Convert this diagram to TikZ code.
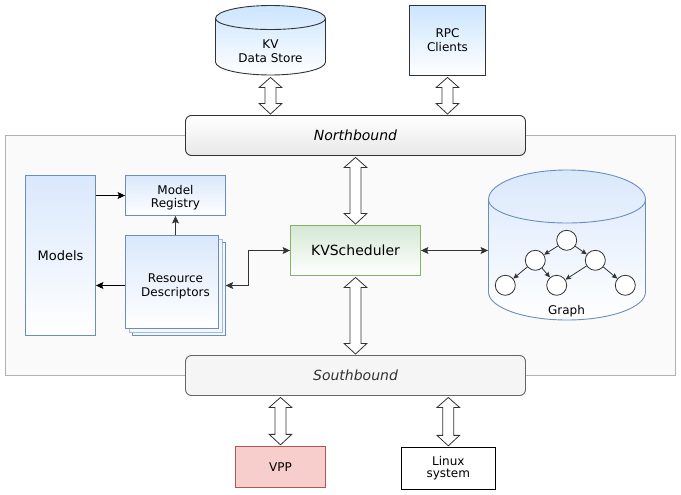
\documentclass[tikz,border=0pt]{standalone}
\usepackage{fontspec}
\setmainfont{DejaVu Sans}
\usetikzlibrary{arrows.meta,calc}
\definecolor{dk}{HTML}{333333}
\definecolor{bluest}{HTML}{6C8EBF}
\definecolor{bluefl}{HTML}{DAE8FC}
\definecolor{skyfl}{HTML}{CCE5FF}
\definecolor{grnst}{HTML}{82B366}
\definecolor{grnfl}{HTML}{D5E8D4}
\definecolor{redst}{HTML}{B85450}
\definecolor{redfl}{HTML}{F8CECC}
\tikzset{
  x=1pt,y=-1pt,
  lbl/.style={font=\fontsize{12}{14}\selectfont,align=center,text=black},
  box/.style={lbl,rectangle,inner sep=0pt,line width=0.9pt},
  bluebox/.style={box,draw=bluest,top color=bluefl,bottom color=white},
  skybox/.style={box,draw=dk,top color=skyfl,bottom color=white},
  hollow/.style={box},
  bi/.style={draw=dk,fill=white,line width=0.8pt,line join=miter},
  conn/.style={draw=black,line width=0.9pt,-{Stealth[inset=1.5pt,length=7.5pt,width=7pt]}},
  conng/.style={draw=dk,line width=0.9pt,-{Stealth[inset=1.5pt,length=7.5pt,width=7pt]}},
  both/.style={draw=dk,line width=0.9pt,{Stealth[inset=1.5pt,length=7.5pt,width=7pt]}-{Stealth[inset=1.5pt,length=7.5pt,width=7pt]}},
  tn/.style={circle,draw=black!80,fill=white,line width=0.8pt,minimum size=20pt,inner sep=0pt},
  te/.style={draw=dk,line width=0.8pt,-{Stealth[inset=1pt,length=5.5pt,width=5pt]}},
}
% vertical double block arrow from #1 (top) to #2 (bottom)
\newcommand\biarrow[2]{%
  \path[bi] let \p1=(#1),\p2=(#2) in
   (\x1,\y1-1.5pt) -- (\x1+11.3pt,\y1-11.5pt) -- (\x1+5.5pt,\y1-11.5pt)
   -- (\x1+5.5pt,\y2+11.5pt) -- (\x1+11.3pt,\y2+11.5pt) -- (\x2,\y2+1pt)
   -- (\x1-11.3pt,\y2+11.5pt) -- (\x1-5.5pt,\y2+11.5pt)
   -- (\x1-5.5pt,\y1-11.5pt) -- (\x1-11.3pt,\y1-11.5pt) -- cycle;}
\begin{document}
\begin{tikzpicture}
\useasboundingbox (0,0) rectangle (681,495);
% panel
\node[box,draw=black!30,fill=black!2,minimum width=669.5pt,minimum height=240pt] (panel) at (340.25,255.5) {};
% KV store
\path[draw=dk,line width=0.9pt,top color=skyfl,bottom color=white]
  (215.5,18.5) arc[x radius=55pt,y radius=13pt,start angle=180,end angle=0]
  -- (325.5,62) arc[x radius=55pt,y radius=13pt,start angle=0,end angle=-180] -- cycle;
\draw[dk,line width=0.9pt] (215.5,18.5) arc[x radius=55pt,y radius=11pt,start angle=180,end angle=360];
\node[hollow,minimum width=110pt,minimum height=70pt] (kv) at (270.5,40.5) {};
\node[lbl,inner sep=0pt] (kvlbl) at (270.5,51.5) {KV\\Data Store};
% RPC
\node[skybox,minimum width=76pt,minimum height=70pt] (rpc) at (447.5,40.5) {RPC\\Clients};
% Northbound
\node[box,draw=dk,rounded corners=6pt,top color=white,bottom color=black!9,minimum width=340pt,minimum height=40pt,font=\fontsize{14}{16}\selectfont\itshape] (north) at (355.5,135.5) {Northbound};
% Southbound
\node[box,draw=black!60,fill=black!4,text=dk,rounded corners=6pt,minimum width=340pt,minimum height=40pt,font=\fontsize{14}{16}\selectfont\itshape] (south) at (355.5,375.5) {Southbound};
% Models
\node[bluebox,minimum width=70pt,minimum height=160pt,font=\fontsize{13}{15}\selectfont] (models) at (60.5,255.5) {Models};
\node[bluebox,minimum width=100pt,minimum height=40pt,text depth=0pt] (reg) at (175.5,195.5) {\raisebox{-1.5pt}{\shortstack{Model\\[1pt]Registry}}};
% Resource stack
\node[box,draw=bluest,fill=bluefl!35,minimum width=93pt,minimum height=93pt] (rear) at (179,289) {};
\node[box,draw=bluest!60,fill=bluefl!35,minimum width=93pt,minimum height=93pt] (mid) at (175.5,285.5) {};
\node[bluebox,minimum width=93pt,minimum height=93pt] (front) at (172,282) {};
\node[lbl,minimum width=100pt,minimum height=100pt,inner sep=0pt] (stack) at (175.5,285.5) {};
\node[lbl,inner sep=0pt] (stacklbl) at (175.5,286.5) {Resource\\Descriptors};
% Scheduler
\node[box,draw=grnst,top color=grnfl,bottom color=white,minimum width=130pt,minimum height=50pt,font=\fontsize{14}{16}\selectfont] (sched) at (355.5,250.5) {KVScheduler};
% Graph cylinder
\path[draw=bluest,line width=0.9pt,top color=bluefl,bottom color=white]
  (488.5,199.5) arc[x radius=78.5pt,y radius=29.5pt,start angle=180,end angle=0]
  -- (645.5,292) arc[x radius=78.5pt,y radius=28pt,start angle=0,end angle=-180] -- cycle;
\draw[bluest,line width=0.9pt] (488.5,199.5) arc[x radius=78.5pt,y radius=23.5pt,start angle=180,end angle=360];
\node[hollow,minimum width=157pt,minimum height=150pt] (graph) at (567,245) {};
\node[lbl,inner sep=0pt] (graphlbl) at (566.5,311) {Graph};
\node[tn] (t0) at (566.7,240.3) {};
\node[tn] (t1) at (535.3,260.3) {};
\node[tn] (t2) at (595.3,260.3) {};
\node[tn] (t3) at (505.3,285.3) {};
\node[tn] (t4) at (556.7,285.3) {};
\node[tn] (t5) at (625.3,285.3) {};
\draw[te] (t0) -- (t1);
\draw[te] (t0) -- (t2);
\draw[te] (t1) -- (t3);
\draw[te] (t1) -- (t4);
\draw[te] (t2) -- (t4);
\draw[te] (t2) -- (t5);
% Bottom
\node[box,draw=redst,fill=redfl,minimum width=90pt,minimum height=41pt] (vpp) at (280.5,466.8) {VPP};
\node[box,draw=black,fill=white,minimum width=94pt,minimum height=42pt] (linux) at (448.3,468.3) {\raisebox{-1.5pt}{\shortstack{Linux\\[1pt]system}}};
% Double block arrows
\biarrow{kv.south}{kv.south |- north.north}
\biarrow{rpc.south}{rpc.south |- north.north}
\biarrow{sched.north |- north.south}{sched.north}
\biarrow{sched.south}{sched.south |- south.north}
\biarrow{vpp.north |- south.south}{vpp.north}
\biarrow{linux.north |- south.south}{linux.north}
% Thin connectors
\coordinate (elbow) at (248.5,250.5);
\draw[conn] (models.east |- reg.west) -- (reg.west);
\draw[conng] (stack.north) -- (reg.south);
\draw[conn] (stack.west) -- (stack.west -| models.east);
\draw[both] (stack.east) -- (stack.east -| elbow) -- (elbow) -- (sched.west);
\draw[both] (sched.east) -- (sched.east -| graph.west);
\end{tikzpicture}
\end{document}
